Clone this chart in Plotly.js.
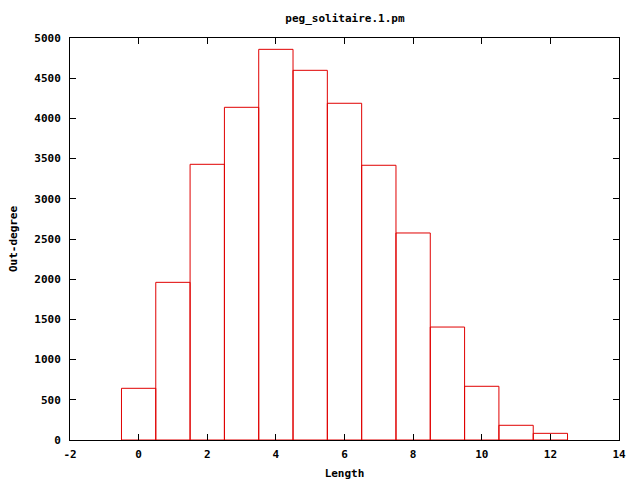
<!DOCTYPE html>
<html>
<head>
<meta charset="utf-8">
<script src="https://cdn.plot.ly/plotly-3.0.1.min.js"></script>
<style>html,body{margin:0;padding:0;background:#fff;}</style>
</head>
<body>
<div id="chart" style="width:640px;height:480px;"></div>
<script>
const lengths = [0, 1, 2, 3, 4, 5, 6, 7, 8, 9, 10, 11, 12];
const outDegree = [643, 1961, 3429, 4138, 4859, 4598, 4188, 3417, 2575, 1405, 668, 183, 83];
const xTicks = [-2, 0, 2, 4, 6, 8, 10, 12, 14];
const yTicks = [0, 500, 1000, 1500, 2000, 2500, 3000, 3500, 4000, 4500, 5000];

const font = {family: 'DejaVu Sans Mono, monospace', size: 11, color: '#000'};

const trace = {
  type: 'bar',
  x: lengths,
  y: outDegree,
  width: 1,
  marker: {color: 'rgba(255,255,255,0)', line: {color: '#e00000', width: 1}},
  hoverinfo: 'x+y'
};

const layout = {
  width: 640, height: 480,
  margin: {l: 70, r: 21, t: 38, b: 40},
  paper_bgcolor: '#fff', plot_bgcolor: '#fff',
  showlegend: false,
  font: font,
  title: {text: '<b>peg_solitaire.1.pm</b>', x: 0.539, xanchor: 'center', y: 0.962, yanchor: 'middle', font: font},
  xaxis: {
    range: [-2, 14], tickvals: xTicks, ticktext: xTicks.map(String),
    showgrid: false, zeroline: false, showline: true, linecolor: '#000', linewidth: 1, mirror: 'ticks',
    ticks: 'inside', ticklen: 6, tickcolor: '#000', ticklabelstandoff: 4,
    tickfont: {family: font.family, size: 11, color: '#000', weight: 'bold'},
    title: {text: '<b>Length</b>', font: font, standoff: 10}
  },
  yaxis: {
    range: [0, 5000], tickvals: yTicks, ticktext: yTicks.map(String),
    showgrid: false, zeroline: false, showline: true, linecolor: '#000', linewidth: 1, mirror: 'ticks',
    ticks: 'inside', ticklen: 6, tickcolor: '#000', ticklabelstandoff: 6,
    tickfont: {family: font.family, size: 11, color: '#000', weight: 'bold'},
    title: {text: '<b>Out-degree</b>', font: font, standoff: 14}
  },
  bargap: 0
};

Plotly.newPlot('chart', [trace], layout, {staticPlot: true, displayModeBar: false});
</script>
</body>
</html>
